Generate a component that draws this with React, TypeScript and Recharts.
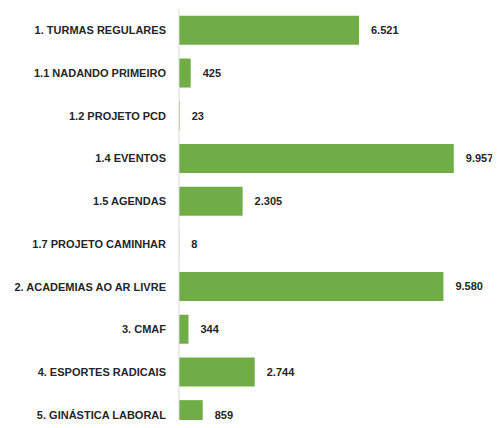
import { BarChart, Bar, XAxis, YAxis, LabelList } from "recharts";

const GREEN = "#70AD47";
const TEXT = "#262626";
const AXIS = "#D9D9D9";
const FONT = "'Liberation Sans', Arial, sans-serif";

const categories = [
  "1. TURMAS REGULARES",
  "1.1 NADANDO PRIMEIRO",
  "1.2 PROJETO PCD",
  "1.4 EVENTOS",
  "1.5 AGENDAS",
  "1.7 PROJETO CAMINHAR",
  "2. ACADEMIAS AO AR LIVRE",
  "3. CMAF",
  "4. ESPORTES RADICAIS",
  "5. GINÁSTICA LABORAL",
];
const values = [6521, 425, 23, 9957, 2305, 8, 9580, 344, 2744, 859];

const data = categories.map((name, i) => ({ name, value: values[i] }));

function formatBR(v: number): string {
  return Number(v).toLocaleString("pt-BR");
}

// plain svg tick so long names stay on one line
function CategoryTick(props: any) {
  const { x, y, payload } = props;
  return (
    <text
      x={x}
      y={y}
      dy={4}
      textAnchor="end"
      fontSize={11}
      fontWeight={700}
      fill={TEXT}
      fontFamily={FONT}
    >
      {payload.value}
    </text>
  );
}

export default function App() {
  return (
    <div style={{ width: 500, height: 428, overflow: "hidden", margin: -8 }}>
      <BarChart
        width={500}
        height={445}
        data={data}
        layout="vertical"
        margin={{ top: 9, right: 45, bottom: 9, left: 0 }}
        barCategoryGap="16%"
      >
        <XAxis type="number" hide domain={[0, 10000]} />
        <YAxis
          type="category"
          dataKey="name"
          width={179}
          axisLine={{ stroke: AXIS }}
          tickLine={false}
          tickSize={0}
          tickMargin={13}
          tick={<CategoryTick />}
          interval={0}
        />
        <Bar dataKey="value" fill={GREEN} isAnimationActive={false}>
          <LabelList
            dataKey="value"
            position="right"
            offset={12}
            formatter={(v: number) => formatBR(v)}
            style={{ fontSize: 11, fontWeight: 700, fill: TEXT, fontFamily: FONT }}
          />
        </Bar>
      </BarChart>
    </div>
  );
}
